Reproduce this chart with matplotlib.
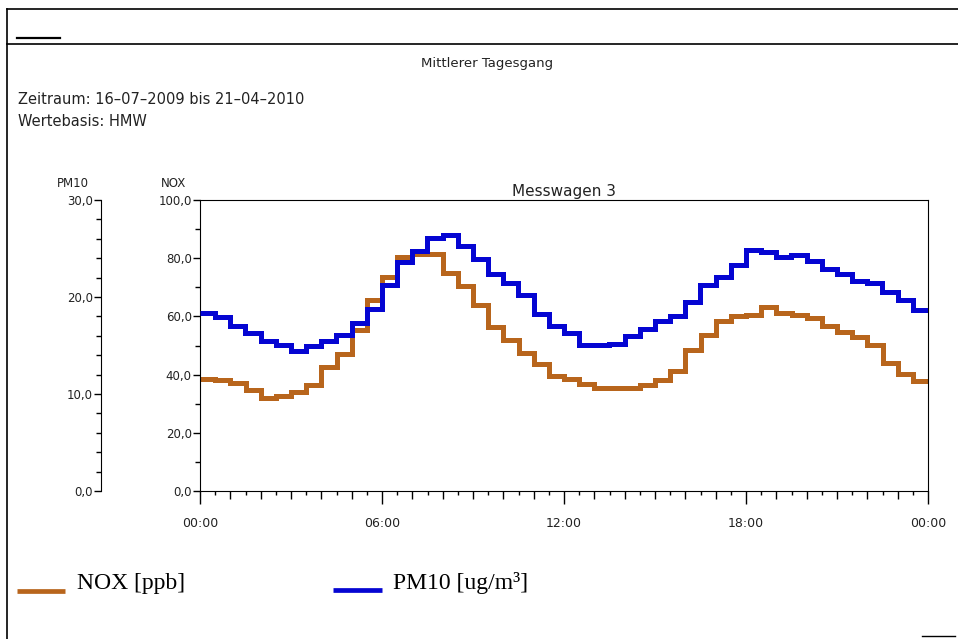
import numpy as np
import matplotlib
matplotlib.use('Agg')
import matplotlib.pyplot as plt
from matplotlib.lines import Line2D
from matplotlib.ticker import MultipleLocator, FixedLocator, FuncFormatter

# half-hourly mean values (HMW), 48 steps per day
nox = [38.6, 38.2, 37.1, 34.6, 31.8, 32.8, 33.9, 36.5, 42.6, 47.2, 55.2, 65.7,
       73.7, 80.3, 81.5, 81.5, 74.8, 70.5, 63.9, 56.5, 52.0, 47.4, 43.7, 39.6,
       38.6, 36.9, 35.4, 35.4, 35.4, 36.5, 38.2, 41.3, 48.5, 53.7, 58.5, 60.0,
       60.5, 63.1, 61.1, 60.5, 59.6, 56.8, 54.8, 52.8, 50.3, 44.0, 40.3, 37.9]
pm10 = [18.3, 17.9, 17.0, 16.3, 15.5, 15.1, 14.4, 15.0, 15.5, 16.1, 17.3, 18.8,
        21.2, 23.6, 24.7, 26.1, 26.4, 25.3, 23.9, 22.4, 21.4, 20.2, 18.2, 17.0,
        16.3, 15.1, 15.1, 15.2, 16.0, 16.7, 17.5, 18.0, 19.5, 21.2, 22.1, 23.3,
        24.8, 24.6, 24.1, 24.3, 23.7, 22.9, 22.4, 21.7, 21.4, 20.5, 19.7, 18.7]
hour_ticks = [0, 6, 12, 18, 24]
hour_labels = ['00:00', '06:00', '12:00', '18:00', '00:00']

NOX_COL = '#b8651c'
PM_COL = '#0505d2'
TXT = '#222222'

W, H = 958, 639
def fx(x):
    return x / W
def fy(y):
    return 1 - y / H

fig = plt.figure(figsize=(W / 100, H / 100), dpi=100)

# frame lines
fig.add_artist(Line2D([fx(7), fx(7)], [fy(9), 0], color='black', lw=1.2))
fig.add_artist(Line2D([fx(7), 1], [fy(9), fy(9)], color='black', lw=1.2))
fig.add_artist(Line2D([fx(7), 1], [fy(44), fy(44)], color='black', lw=1.2))
fig.add_artist(Line2D([fx(17), fx(60)], [fy(38), fy(38)], color='black', lw=1.6))
fig.add_artist(Line2D([fx(922), fx(955)], [fy(636), fy(636)], color='black', lw=1.0))

fig.text(fx(487), fy(63), 'Mittlerer Tagesgang', ha='center', va='center', fontsize=9.5, color=TXT)
fig.text(fx(18), fy(100), 'Zeitraum: 16–07–2009 bis 21–04–2010', ha='left', va='center',
         fontsize=10.5, color=TXT)
fig.text(fx(18), fy(122), 'Wertebasis: HMW', ha='left', va='center', fontsize=10.5, color=TXT)
fig.text(fx(73), fy(184), 'PM10', ha='center', va='center', fontsize=8.5, color=TXT)
fig.text(fx(174), fy(184), 'NOX', ha='center', va='center', fontsize=8.5, color=TXT)

ax = fig.add_axes([fx(200), fy(491), fx(928) - fx(200), fy(200) - fy(491)])
edges = np.arange(len(nox) + 1) * 0.5
ax.stairs(nox, edges, baseline=None, color=NOX_COL, lw=3.6)
ax.set_xlim(0, 24)
ax.set_ylim(0, 100)
ax.set_title('Messwagen 3', fontsize=11, color=TXT, pad=3)

comma = FuncFormatter(lambda v, p: f'{v:.1f}'.replace('.', ','))
ax.set_xticks(hour_ticks)
ax.set_xticklabels(hour_labels)
ax.xaxis.set_minor_locator(FixedLocator(np.arange(0.5, 24, 1.0)))
ax.tick_params(axis='x', which='major', length=9.5, width=1, pad=9, labelsize=9, labelcolor=TXT)
ax.tick_params(axis='x', which='minor', length=3, width=1)
ax.set_yticks(range(0, 101, 20))
ax.yaxis.set_major_formatter(comma)
ax.yaxis.set_minor_locator(MultipleLocator(10))
ax.tick_params(axis='y', which='major', length=5, width=1, pad=1, labelsize=8.5, labelcolor=TXT)
ax.tick_params(axis='y', which='minor', length=3.5, width=1)

# hourly ticks, medium length
sec = ax.secondary_xaxis('bottom')
sec.set_xticks([h for h in range(1, 24) if h % 6])
sec.set_xticklabels([])
sec.tick_params(length=5.5, width=1)
sec.spines['bottom'].set_visible(False)

pm = ax.twinx()
pm.stairs(pm10, edges, baseline=None, color=PM_COL, lw=3.6)
pm.set_ylim(0, 30)
for s in ['right', 'top', 'bottom']:
    pm.spines[s].set_visible(False)
pm.spines['left'].set_position(('outward', 71.3))
pm.yaxis.set_ticks_position('left')
pm.set_yticks(range(0, 31, 10))
pm.yaxis.set_major_formatter(comma)
pm.yaxis.set_minor_locator(MultipleLocator(2))
pm.tick_params(axis='y', which='major', length=5, width=1, pad=1, labelsize=8.5, labelcolor=TXT)
pm.tick_params(axis='y', which='minor', length=3.5, width=1)

# legend
fig.add_artist(Line2D([fx(17), fx(65)], [fy(591), fy(591)], color=NOX_COL, lw=3.4,
                      solid_capstyle='butt'))
fig.text(fx(77), fy(583), 'NOX [ppb]', ha='left', va='center', fontsize=17,
         family='Liberation Serif', color='black')
fig.add_artist(Line2D([fx(333), fx(382)], [fy(590), fy(590)], color=PM_COL, lw=3.4,
                      solid_capstyle='butt'))
fig.text(fx(393), fy(583), 'PM10 [ug/m³]', ha='left', va='center', fontsize=17,
         family='Liberation Serif', color='black')

fig.savefig('out.png', dpi=100)
